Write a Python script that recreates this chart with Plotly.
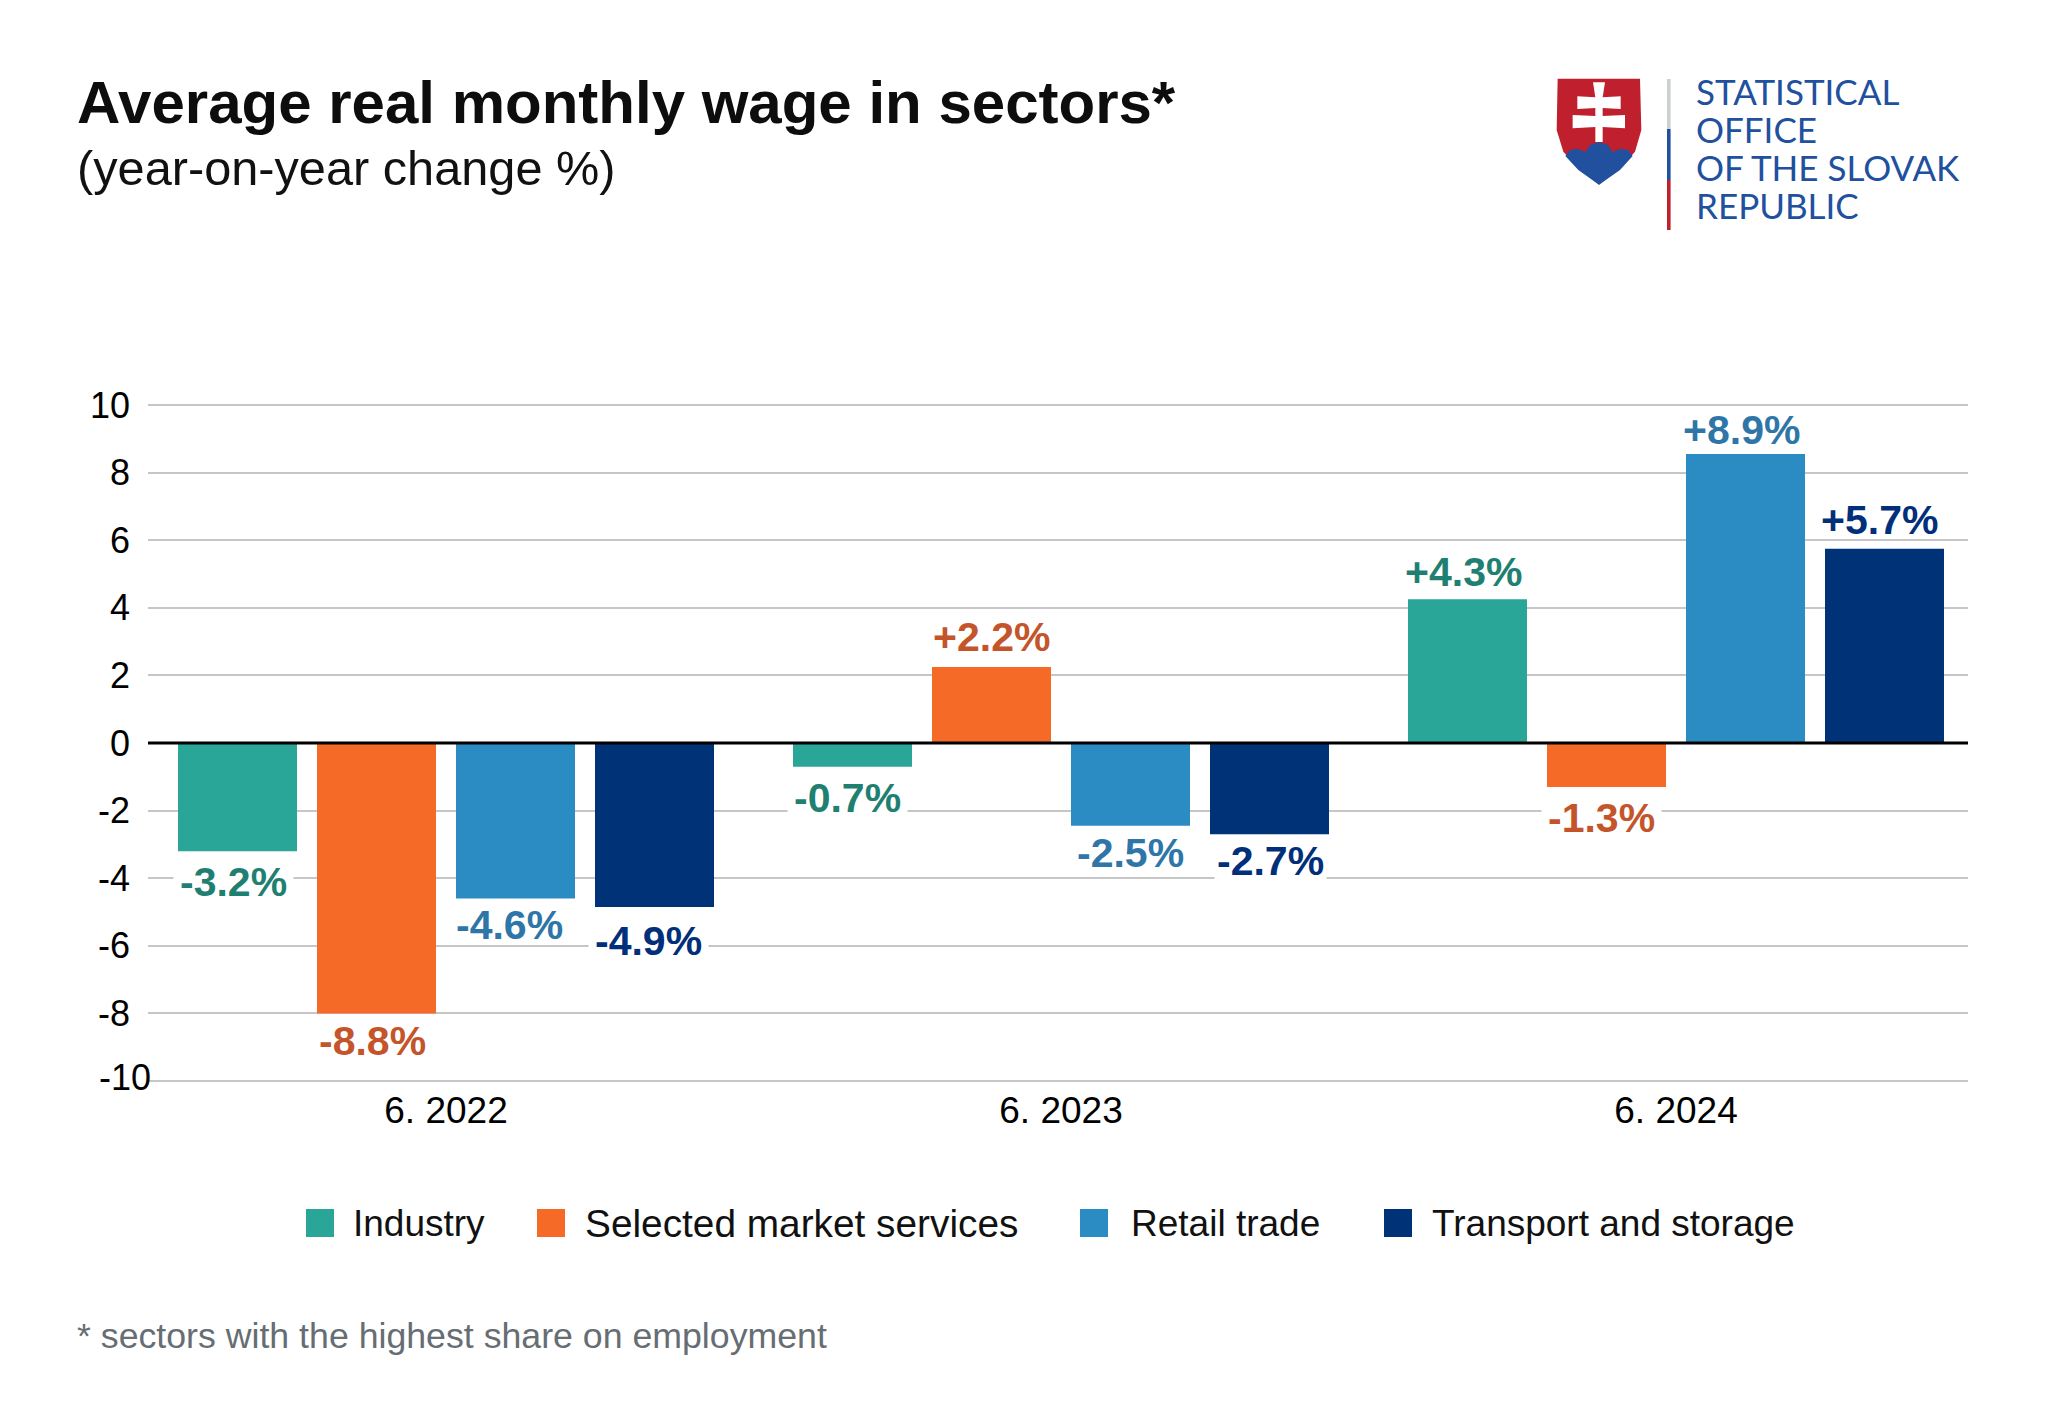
import plotly.graph_objects as go

W, H = 2048, 1428
L, R, T, B = 148, 1968, 403, 1083

PERIODS = ["6. 2022", "6. 2023", "6. 2024"]
INDUSTRY = [-3.2, -0.7, 4.25]
SERVICES = [-8.0, 2.25, -1.3]
RETAIL = [-4.6, -2.45, 8.55]
TRANSPORT = [-4.85, -2.7, 5.75]
LBL_INDUSTRY = ["-3.2%", "-0.7%", "+4.3%"]
LBL_SERVICES = ["-8.8%", "+2.2%", "-1.3%"]
LBL_RETAIL = ["-4.6%", "-2.5%", "+8.9%"]
LBL_TRANSPORT = ["-4.9%", "-2.7%", "+5.7%"]
Y_TICKS = [10, 8, 6, 4, 2, 0, -2, -4, -6, -8]

FONT = "Liberation Sans"
# name, bars, labels, bar colour, label colour, label offset y, label offset x, mask padding (0 = no mask)
series = [
    ("Industry", INDUSTRY, LBL_INDUSTRY, "#2aa698", "#1f8072", [31, 31, -27], [-4, -5, -4], [6, 6, 0]),
    ("Selected market services", SERVICES, LBL_SERVICES, "#f56a26", "#c4552a", [28, -30, 31], [-4, 0, -5], [2, 0, 6]),
    ("Retail trade", RETAIL, LBL_RETAIL, "#2b8cc4", "#2f76a8", [27, 27, -24], [-6, 0, -4], [0, 0, 0]),
    ("Transport and storage", TRANSPORT, LBL_TRANSPORT, "#003278", "#012f79", [34, 27, -29], [-6, 1, -5], [6, 2, 0]),
]
xs = list(range(len(PERIODS)))
SLOT = 139 / 615
fig = go.Figure()
for s in series:
    fig.add_bar(x=xs, y=s[1], name=s[0], marker=dict(color=s[3], line=dict(width=0)), showlegend=False)


def px(x):
    return (x - L) / (R - L)


def py(y):
    return (B - y) / (B - T)


anns = []
for si, (name, vals, lbls, col, tcol, ysh, xsh, pads) in enumerate(series):
    for i, (v, t, s, dx, pad) in enumerate(zip(vals, lbls, ysh, xsh, pads)):
        a = dict(x=i + (si - 1.5) * SLOT, y=v, xref="x", yref="y", text=f"<b>{t}</b>", showarrow=False,
                 xshift=dx, yshift=-s, borderpad=pad,
                 font=dict(family=FONT, size=41, color=tcol))
        if pad:
            a["bgcolor"] = "white"
        anns.append(a)


def text(x, y, t, size, color="#000000", anchor="left"):
    anns.append(dict(x=px(x), y=py(y), xref="paper", yref="paper", text=t, showarrow=False, xanchor=anchor,
                     yanchor="middle", font=dict(family=FONT, size=size, color=color)))


text(75, 102, "<b>Average real monthly wage in sectors*</b>", 60, "#0d0d0d")
text(75, 168, "(year-on-year change %)", 48.7, "#111111")
text(75, 1336, "* sectors with the highest share on employment", 35.7, "#666d73")
text(153, 1077, "-10", 36, anchor="right")

shapes = [
    dict(type="line", xref="paper", x0=0, x1=1, yref="y", y0=-10, y1=-10, line=dict(color="#b4b4b4", width=1.5), layer="below"),
    dict(type="line", xref="paper", x0=0, x1=1, yref="y", y0=0, y1=0, line=dict(color="#000000", width=3), layer="above"),
]
LEG = [(306, 351, 37), (537, 583, 38.8), (1080, 1129, 37), (1384, 1430, 37)]
for s, (sx, tx, fs) in zip(series, LEG):
    shapes.append(dict(type="rect", xref="paper", yref="paper", x0=px(sx), x1=px(sx + 28), y0=py(1209), y1=py(1237),
                       fillcolor=s[3], line=dict(width=0)))
    text(tx, 1223, s[0], fs, "#111111")


def poly(points, color):
    d = ""
    for i, seg in enumerate(points):
        d += f"{'M' if i == 0 else 'L'}{px(seg[0]):.5f},{py(seg[1]):.5f} "
    shapes.append(dict(type="path", xref="paper", yref="paper", path=d + "Z", fillcolor=color, line=dict(width=0), layer="above"))


def z(x, y):
    return (1520 + x / 3, 50 + y / 3)


poly([z(*p) for p in [(113, 86), (360, 86), (364, 240), (345, 305), (300, 355), (237, 404), (175, 355), (130, 305), (110, 240)]], "#c0202e")
poly([z(*p) for p in [(136, 318), (150, 300), (172, 296), (197, 306), (210, 285), (237, 276), (264, 285), (277, 306), (302, 296), (324, 300), (338, 318), (300, 360), (237, 404), (175, 360)]], "#20509e")
poly([z(*p) for p in [(219, 97), (255, 97), (248, 142), (302, 139), (302, 177), (248, 174), (248, 198), (315, 195), (315, 235), (248, 231), (248, 276), (226, 276), (226, 231), (158, 235), (158, 195), (226, 198), (226, 174), (172, 177), (172, 139), (226, 142)]], "#ffffff")
for y0, y1, c in [(79, 129, "#ccd0d0"), (129, 180, "#20509e"), (180, 230, "#c0202e")]:
    shapes.append(dict(type="rect", xref="paper", yref="paper", x0=px(1667), x1=px(1670.6), y0=py(y0), y1=py(y1), fillcolor=c, line=dict(width=0)))
for y, t in zip([91, 129, 167, 205], ["STATISTICAL", "OFFICE", "OF THE SLOVAK", "REPUBLIC"]):
    anns.append(dict(x=px(1694), y=py(y), xref="paper", yref="paper", text=t, showarrow=False, xanchor="left", yanchor="middle",
                     font=dict(family="Lato", size=35, color="#20509e")))

fig.update_layout(
    width=W, height=H, margin=dict(l=L, r=W - R, t=T, b=H - B, pad=0, autoexpand=False),
    paper_bgcolor="white", plot_bgcolor="white", barmode="group",
    bargap=1 - 4 * SLOT, bargroupgap=1 - 119 / 139,
    font=dict(family=FONT, size=36, color="#000000"),
    xaxis=dict(range=[(L - 446) / 615, (R - 446) / 615], tickmode="array", tickvals=xs, ticktext=PERIODS,
               showgrid=False, showline=False, zeroline=False, ticks="", ticklabelstandoff=2, tickfont=dict(size=37)),
    yaxis=dict(range=[-10.06, 10.06], tickmode="array", tickvals=Y_TICKS, ticktext=[str(v) for v in Y_TICKS],
               gridcolor="#c6c6c6", gridwidth=1.5,
               zeroline=False, showline=False, ticks="", ticklabelstandoff=17, tickfont=dict(size=36)),
    shapes=shapes,
    annotations=anns,
)
fig.write_html("out.html", config=dict(displayModeBar=False), post_script="document.body.style.margin='0';")
